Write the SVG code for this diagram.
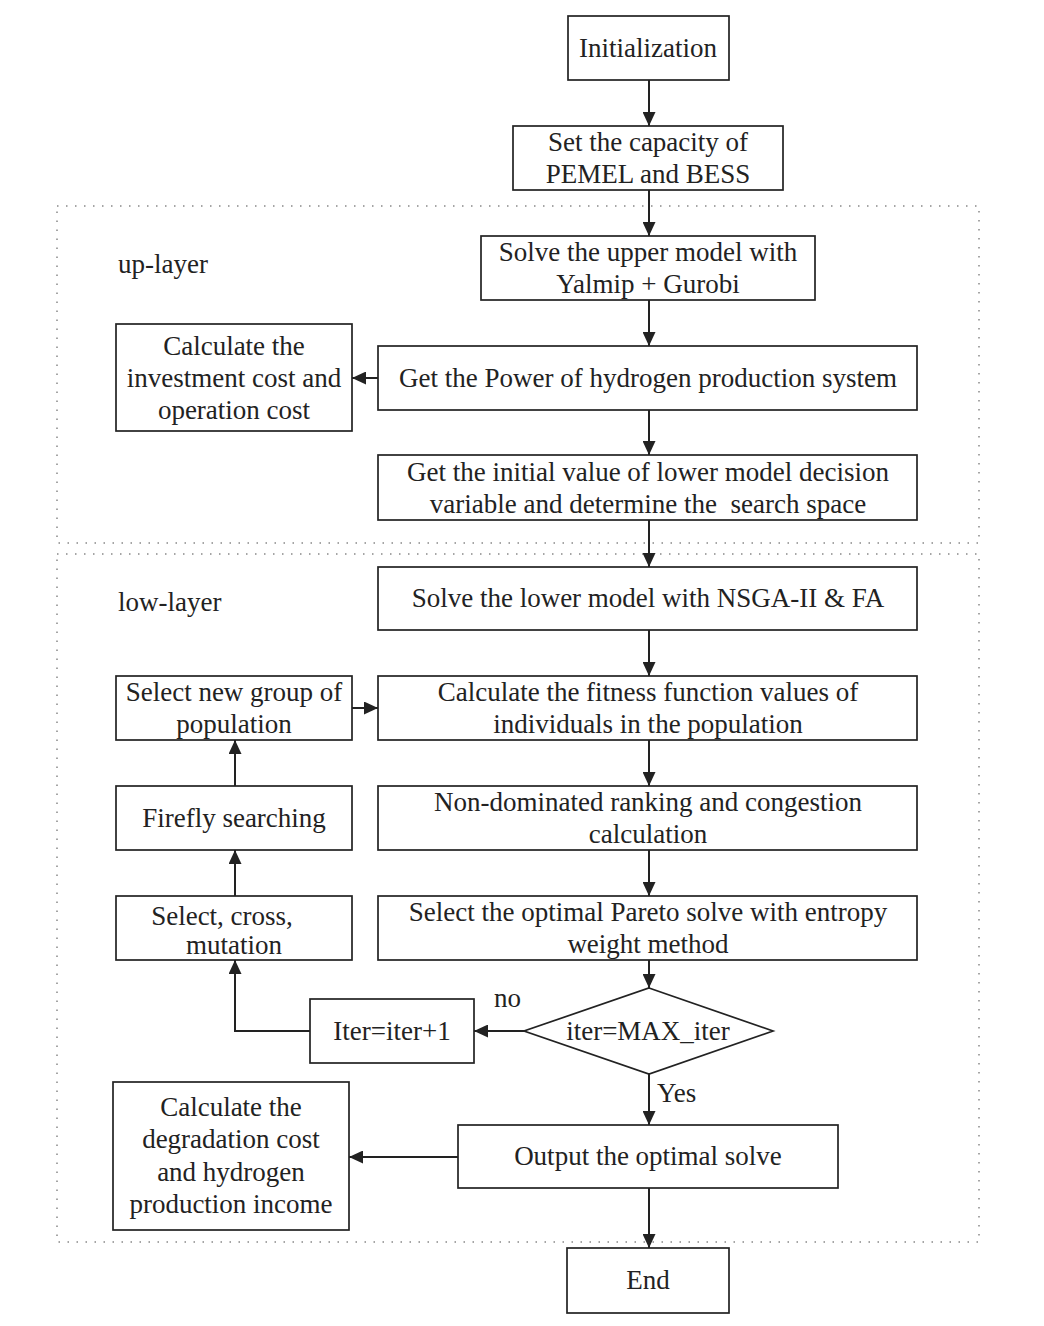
<svg xmlns="http://www.w3.org/2000/svg" width="1044" height="1326" viewBox="0 0 1044 1326">
<style>
.box{fill:#fff;stroke:#222;stroke-width:1.7}
.t{font-family:"Liberation Serif","Times New Roman",serif;font-size:27px;fill:#222;text-anchor:middle}
.lbl{font-family:"Liberation Serif","Times New Roman",serif;font-size:27px;fill:#222}
.c{fill:none;stroke:#222;stroke-width:2}
.dot{fill:none;stroke:#888;stroke-width:1.5;stroke-dasharray:1.5 7.5}
</style>
<defs>
<marker id="ah" viewBox="0 0 14 13" refX="14" refY="6.5" markerWidth="14" markerHeight="13" markerUnits="userSpaceOnUse" orient="auto">
<path d="M0,0 L14,6.5 L0,13 Z" fill="#222"/>
</marker>
</defs>
<rect width="1044" height="1326" fill="#fff"/>
<g id="layers">
<rect class="dot" x="57" y="206" width="922" height="337"/>
<rect class="dot" x="57" y="554" width="922" height="688"/>
<text class="lbl" x="118" y="273">up-layer</text>
<text class="lbl" x="118" y="611">low-layer</text>
</g>
<g id="connectors">
<line class="c" x1="649" y1="80" x2="649" y2="126" marker-end="url(#ah)"/>
<line class="c" x1="649" y1="190" x2="649" y2="236" marker-end="url(#ah)"/>
<line class="c" x1="649" y1="300" x2="649" y2="346" marker-end="url(#ah)"/>
<line class="c" x1="378" y1="378" x2="352" y2="378" marker-end="url(#ah)"/>
<line class="c" x1="649" y1="410" x2="649" y2="455" marker-end="url(#ah)"/>
<line class="c" x1="649" y1="520" x2="649" y2="567" marker-end="url(#ah)"/>
<line class="c" x1="649" y1="630" x2="649" y2="676" marker-end="url(#ah)"/>
<line class="c" x1="649" y1="740" x2="649" y2="786" marker-end="url(#ah)"/>
<line class="c" x1="649" y1="850" x2="649" y2="896" marker-end="url(#ah)"/>
<line class="c" x1="649" y1="960" x2="649" y2="988" marker-end="url(#ah)"/>
<line class="c" x1="524" y1="1031" x2="474" y2="1031" marker-end="url(#ah)"/>
<polyline class="c" points="310,1031 235,1031 235,960" marker-end="url(#ah)"/>
<line class="c" x1="235" y1="896" x2="235" y2="850" marker-end="url(#ah)"/>
<line class="c" x1="235" y1="786" x2="235" y2="740" marker-end="url(#ah)"/>
<line class="c" x1="352" y1="708" x2="378" y2="708" marker-end="url(#ah)"/>
<line class="c" x1="649" y1="1074" x2="649" y2="1125" marker-end="url(#ah)"/>
<line class="c" x1="458" y1="1157" x2="349" y2="1157" marker-end="url(#ah)"/>
<line class="c" x1="649" y1="1188" x2="649" y2="1248" marker-end="url(#ah)"/>
<text class="lbl" x="494" y="1007">no</text>
<text class="lbl" x="657" y="1102">Yes</text>
</g>
<g id="n_init"><rect class="box" x="568" y="16" width="161" height="64"/><text class="t" x="648" y="57">Initialization</text></g>
<g id="n_cap"><rect class="box" x="513" y="126" width="270" height="64"/><text class="t" x="648" y="151">Set the capacity of</text><text class="t" x="648" y="183">PEMEL and BESS</text></g>
<g id="n_upper"><rect class="box" x="481" y="236" width="334" height="64"/><text class="t" x="648" y="261">Solve the upper model with</text><text class="t" x="648" y="293">Yalmip + Gurobi</text></g>
<g id="n_invest"><rect class="box" x="116" y="324" width="236" height="107"/><text class="t" x="234" y="355">Calculate the</text><text class="t" x="234" y="387">investment cost and</text><text class="t" x="234" y="419">operation cost</text></g>
<g id="n_power"><rect class="box" x="378" y="346" width="539" height="64"/><text class="t" x="648" y="387">Get the Power of hydrogen production system</text></g>
<g id="n_initval"><rect class="box" x="378" y="455" width="539" height="65"/><text class="t" x="648" y="481">Get the initial value of lower model decision</text><text class="t" x="648" y="513" xml:space="preserve">variable and determine the  search space</text></g>
<g id="n_lower"><rect class="box" x="378" y="567" width="539" height="63"/><text class="t" x="648" y="607">Solve the lower model with NSGA-II &amp; FA</text></g>
<g id="n_newgroup"><rect class="box" x="116" y="676" width="236" height="64"/><text class="t" x="234" y="701">Select new group of</text><text class="t" x="234" y="733">population</text></g>
<g id="n_fitness"><rect class="box" x="378" y="676" width="539" height="64"/><text class="t" x="648" y="701">Calculate the fitness function values of</text><text class="t" x="648" y="733">individuals in the population</text></g>
<g id="n_firefly"><rect class="box" x="116" y="786" width="236" height="64"/><text class="t" x="234" y="827">Firefly searching</text></g>
<g id="n_ranking"><rect class="box" x="378" y="786" width="539" height="64"/><text class="t" x="648" y="811">Non-dominated ranking and congestion</text><text class="t" x="648" y="843">calculation</text></g>
<g id="n_cross"><rect class="box" x="116" y="896" width="236" height="64"/><text class="t" x="222" y="925">Select, cross,</text><text class="t" x="234" y="954">mutation</text></g>
<g id="n_pareto"><rect class="box" x="378" y="896" width="539" height="64"/><text class="t" x="648" y="921">Select the optimal Pareto solve with entropy</text><text class="t" x="648" y="953">weight method</text></g>
<g id="n_iter"><rect class="box" x="310" y="999" width="164" height="64"/><text class="t" x="392" y="1040">Iter=iter+1</text></g>
<g id="n_decision"><polygon class="box" points="649,988 773,1031 649,1074 524,1031"/><text class="t" x="648" y="1040">iter=MAX_iter</text></g>
<g id="n_degrad"><rect class="box" x="113" y="1082" width="236" height="148"/><text class="t" x="231" y="1116">Calculate the</text><text class="t" x="231" y="1148">degradation cost</text><text class="t" x="231" y="1181">and hydrogen</text><text class="t" x="231" y="1213">production income</text></g>
<g id="n_output"><rect class="box" x="458" y="1125" width="380" height="63"/><text class="t" x="648" y="1165">Output the optimal solve</text></g>
<g id="n_end"><rect class="box" x="567" y="1248" width="162" height="65"/><text class="t" x="648" y="1289">End</text></g>
</svg>
